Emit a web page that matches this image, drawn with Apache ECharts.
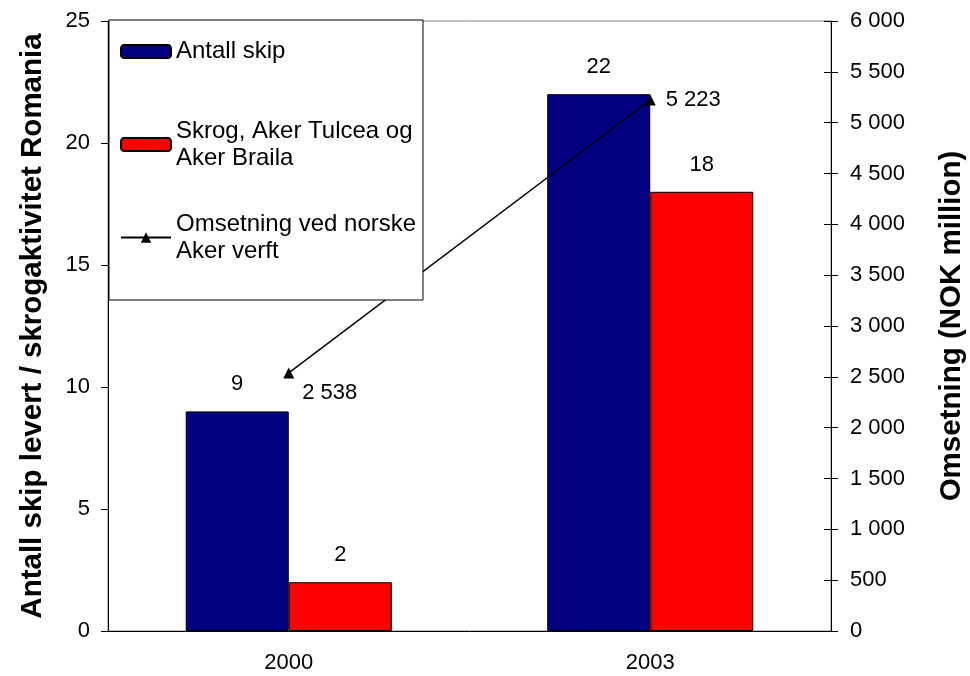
<!DOCTYPE html>
<html>
<head>
<meta charset="utf-8">
<script src="https://cdn.jsdelivr.net/npm/echarts@6/dist/echarts.min.js"></script>
<style>
  html, body { margin: 0; padding: 0; background: #fff; }
  #main { width: 970px; height: 676px; }
</style>
</head>
<body>
<div id="main"></div>
<script>
var years = ['2000', '2003'];
var antallSkip = [9, 22];
var skrog = [2, 18];
var omsetning = [2538, 5223];

var FONT = "'Liberation Sans', Arial, sans-serif";

// tusenskille med mellomrom
function fmt(v) {
  return String(v).replace(/\B(?=(\d{3})+(?!\d))/g, ' ');
}

var chart = echarts.init(document.getElementById('main'));

var option = {
  backgroundColor: '#ffffff',
  animation: false,
  textStyle: { fontFamily: FONT, color: '#000' },
  grid: {
    left: 108, right: 139, top: 21, bottom: 45,
    outerBoundsMode: 'none',
    show: true, borderColor: '#808080', borderWidth: 1
  },
  graphic: [{
    type: 'rect', z: 10,
    shape: { x: 109, y: 20, width: 314, height: 280 },
    style: { fill: '#fff', stroke: '#000', lineWidth: 1 }
  }],
  legend: [{
    data: ['Antall skip'],
    left: 120, top: 38, padding: 0, z: 20,
    itemWidth: 50, itemHeight: 13,
    textStyle: { fontSize: 24, lineHeight: 27, color: '#000', fontFamily: FONT }
  }, {
    data: ['Skrog, Aker Tulcea og\nAker Braila'],
    left: 120, top: 104, padding: 0, z: 20,
    itemWidth: 50, itemHeight: 13,
    textStyle: { fontSize: 24, lineHeight: 27, padding: [27, 0, 0, 0], color: '#000', fontFamily: FONT }
  }, {
    data: ['Omsetning ved norske\nAker verft'],
    left: 120, top: 197, padding: 0, z: 20,
    itemWidth: 50, itemHeight: 13,
    textStyle: { fontSize: 24, lineHeight: 27, padding: [27, 0, 0, 0], color: '#000', fontFamily: FONT }
  }],
  xAxis: {
    type: 'category',
    data: years,
    axisLine: { lineStyle: { color: '#000', width: 1 } },
    axisTick: { length: 8, lineStyle: { color: '#000' } },
    axisLabel: { fontSize: 22, color: '#000', margin: 21, fontFamily: FONT }
  },
  yAxis: [{
    type: 'value',
    min: 0, max: 25, interval: 5,
    position: 'left',
    name: 'Antall skip levert / skrogaktivitet Romania',
    nameLocation: 'middle',
    nameGap: 60,
    nameTextStyle: { fontSize: 29.5, fontWeight: 'bold', color: '#000', fontFamily: FONT },
    axisLine: { show: true, lineStyle: { color: '#000' } },
    axisTick: { show: true, length: 7, lineStyle: { color: '#000' } },
    axisLabel: { fontSize: 22, color: '#000', margin: 18, fontFamily: FONT },
    splitLine: { show: false }
  }, {
    type: 'value',
    min: 0, max: 6000, interval: 500,
    position: 'right',
    name: 'Omsetning (NOK million)',
    nameLocation: 'middle',
    nameGap: 106,
    nameTextStyle: { fontSize: 29.5, fontWeight: 'bold', color: '#000', fontFamily: FONT },
    axisLine: { show: true, lineStyle: { color: '#000' } },
    axisTick: { show: true, length: 7, lineStyle: { color: '#000' } },
    axisLabel: { fontSize: 22, color: '#000', margin: 19, fontFamily: FONT, formatter: fmt },
    splitLine: { show: false }
  }, {
    // innvendige merker på høyre akse (kryssende tick)
    type: 'value',
    min: 0, max: 6000, interval: 500,
    position: 'right',
    axisLine: { show: false },
    axisTick: { show: true, inside: true, length: 7, lineStyle: { color: '#000' } },
    axisLabel: { show: false },
    splitLine: { show: false }
  }],
  series: [{
    name: 'Antall skip',
    type: 'bar',
    data: antallSkip,
    barGap: '0%',
    barCategoryGap: '43%',
    itemStyle: { color: '#000080', borderColor: '#000', borderWidth: 1 },
    label: { show: true, position: 'top', distance: 16, fontSize: 22, color: '#000', fontFamily: FONT }
  }, {
    name: 'Skrog, Aker Tulcea og\nAker Braila',
    type: 'bar',
    data: skrog,
    itemStyle: { color: '#ff0000', borderColor: '#000', borderWidth: 1 },
    label: { show: true, position: 'top', distance: 16, fontSize: 22, color: '#000', fontFamily: FONT }
  }, {
    name: 'Omsetning ved norske\nAker verft',
    type: 'line',
    yAxisIndex: 1,
    z: 5,
    data: omsetning.map(function (v, i) {
      return i === 0
        ? { value: v, label: { offset: [-2, 20] } }
        : { value: v };
    }),
    symbol: 'triangle',
    symbolSize: 11,
    itemStyle: { color: '#000' },
    lineStyle: { color: '#000', width: 1.5 },
    label: {
      show: true, position: 'right', distance: 10,
      fontSize: 22, color: '#000', fontFamily: FONT,
      formatter: function (p) { return fmt(p.value); }
    }
  }]
};

chart.setOption(option);
</script>
</body>
</html>
